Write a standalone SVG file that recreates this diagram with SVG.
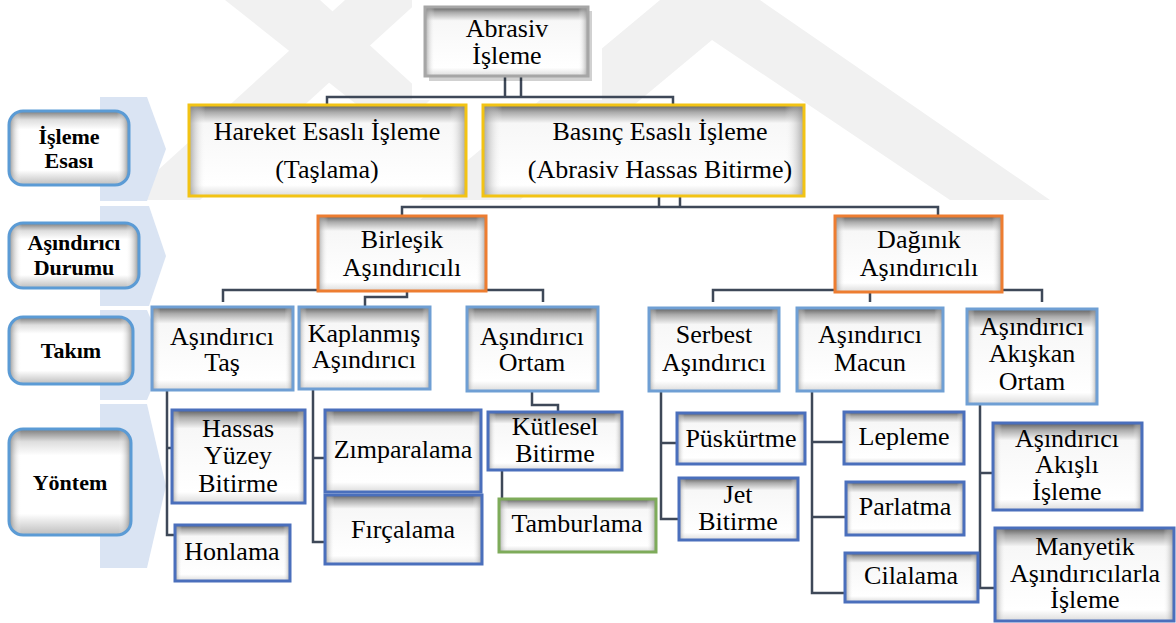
<svg xmlns="http://www.w3.org/2000/svg" width="1176" height="623" viewBox="0 0 1176 623">
<defs>
<linearGradient id="gv" x1="0" y1="0" x2="0" y2="1">
<stop offset="0" stop-color="#5e5e5e"/>
<stop offset="0.08" stop-color="#ababab"/>
<stop offset="0.2" stop-color="#f7f7f7"/>
<stop offset="0.88" stop-color="#ffffff"/>
<stop offset="1" stop-color="#dcdcdc"/>
</linearGradient>
<linearGradient id="gh" x1="0" y1="0" x2="1" y2="0">
<stop offset="0" stop-color="#8a8a8a" stop-opacity="0.75"/>
<stop offset="0.06" stop-color="#ffffff" stop-opacity="0"/>
<stop offset="0.94" stop-color="#ffffff" stop-opacity="0"/>
<stop offset="1" stop-color="#8a8a8a" stop-opacity="0.75"/>
</linearGradient>
<linearGradient id="lv" x1="0" y1="0" x2="0" y2="1">
<stop offset="0" stop-color="#7a7a7a"/>
<stop offset="0.12" stop-color="#dedede"/>
<stop offset="0.25" stop-color="#ffffff"/>
<stop offset="0.8" stop-color="#ffffff"/>
<stop offset="1" stop-color="#bdbdbd"/>
</linearGradient>
<linearGradient id="lh" x1="0" y1="0" x2="1" y2="0">
<stop offset="0" stop-color="#7a7a7a" stop-opacity="0.85"/>
<stop offset="0.1" stop-color="#ffffff" stop-opacity="0"/>
<stop offset="0.9" stop-color="#ffffff" stop-opacity="0"/>
<stop offset="1" stop-color="#7a7a7a" stop-opacity="0.85"/>
</linearGradient>
<style>
.fv{fill:url(#gv)}
.fh{fill:url(#gh)}
.lv{fill:url(#lv)}
.lh{fill:url(#lh)}
.b{fill:none;stroke-width:3}
.gray{stroke:#a6a6a6}
.yel{stroke:#f2c314}
.org{stroke:#ed7d31}
.tb{stroke:#6f9fd4}
.yb{stroke:#4a6fbc}
.grn{stroke:#7eab5a}
.lab{fill:none;stroke:#5b9bd5;stroke-width:3}
.t{font-family:"Liberation Serif","Times New Roman",serif;font-size:26px;fill:#000;text-anchor:middle}
.lt{font-family:"Liberation Serif","Times New Roman",serif;font-size:22px;font-weight:bold;fill:#000;text-anchor:middle}
.chev{fill:#dae4f3}
.wm{fill:#f1f1f1}
.con{fill:none;stroke:#3e4858;stroke-width:2.5}
</style>
</defs>
<rect width="1176" height="623" fill="#fff"/>
<g id="watermark">
<polygon class="wm" points="420,200 660,0 760,0 1050,200 950,200 712,40 520,200"/>
<polygon class="wm" points="125,200 200,200 420,0 345,0"/>
<polygon class="wm" points="225,0 320,0 430,100 395,135"/>
<rect x="412" y="0" width="190" height="100" fill="#fff"/>
</g>
<g id="chevrons">
<polygon class="chev" points="100,97 147,97 166,149 147,201 100,201"/>
<polygon class="chev" points="100,206 149,206 166,256 149,306 100,306"/>
<polygon class="chev" points="100,310 147,310 166,355 147,400 100,400"/>
<polygon class="chev" points="100,404 147,404 166,486 147,568 100,568"/>
</g>
<g id="label-isleme-esasi">
<rect class="lv" x="9" y="111" width="120" height="74" rx="14"/>
<rect class="lh" x="9" y="111" width="120" height="74" rx="14"/>
<rect class="lab" x="9" y="111" width="120" height="74" rx="14"/>
<text class="lt" x="69" y="144">İşleme</text>
<text class="lt" x="69" y="168">Esası</text>
</g>
<g id="label-asindirici-durumu">
<rect class="lv" x="9" y="223" width="130" height="65" rx="14"/>
<rect class="lh" x="9" y="223" width="130" height="65" rx="14"/>
<rect class="lab" x="9" y="223" width="130" height="65" rx="14"/>
<text class="lt" x="74" y="250">Aşındırıcı</text>
<text class="lt" x="74" y="275">Durumu</text>
</g>
<g id="label-takim">
<rect class="lv" x="9" y="317" width="124" height="67" rx="14"/>
<rect class="lh" x="9" y="317" width="124" height="67" rx="14"/>
<rect class="lab" x="9" y="317" width="124" height="67" rx="14"/>
<text class="lt" x="71" y="358">Takım</text>
</g>
<g id="label-yontem">
<rect class="lv" x="9" y="429" width="122" height="106" rx="14"/>
<rect class="lh" x="9" y="429" width="122" height="106" rx="14"/>
<rect class="lab" x="9" y="429" width="122" height="106" rx="14"/>
<text class="lt" x="70" y="490">Yöntem</text>
</g>
<g id="connectors">
<path class="con" d="M505,76 V97 M521,76 V97 M327,105 V97 H673 V105"/>
<path class="con" d="M659,196 V207 M680,196 V207 M402,216 V207 H938 V216"/>
<path class="con" d="M223,302 V290 H318 M486,290 H543 V302 M407,291 V297 H365 V307"/>
<path class="con" d="M713,302 V290 H835 M870,292 V302 M1002,290 H1042 V302"/>
<path class="con" d="M167,390 V535 H176 M167,448 H173"/>
<path class="con" d="M313,389 V542 H326 M313,458 H326"/>
<path class="con" d="M532,391 V405 H558 V412"/>
<path class="con" d="M502,470 V499"/>
<path class="con" d="M661,391 V519 H680 M661,443 H678"/>
<path class="con" d="M812,391 V593 H846 M812,442 H845 M812,517 H847"/>
<path class="con" d="M980,404 V588 H996 M980,473 H994"/>
</g>
<g id="n-abrasiv-isleme">
<rect x="429" y="11" width="163" height="70" fill="#000" opacity="0.18"/>
<rect class="fv" x="425" y="7" width="163" height="69"/>
<rect class="fh" x="425" y="7" width="163" height="69"/>
<rect class="b gray" x="425" y="7" width="163" height="69"/>
<text class="t" x="507" y="37">Abrasiv</text>
<text class="t" x="507" y="64">İşleme</text>
</g>
<g id="n-hareket">
<rect class="fv" x="189" y="105" width="277" height="91"/>
<rect class="fh" x="189" y="105" width="277" height="91"/>
<rect class="b yel" x="189" y="105" width="277" height="91"/>
<text class="t" x="327" y="140">Hareket Esaslı İşleme</text>
<text class="t" x="327" y="178">(Taşlama)</text>
</g>
<g id="n-basinc">
<rect class="fv" x="483" y="105" width="321" height="91"/>
<rect class="fh" x="483" y="105" width="321" height="91"/>
<rect class="b yel" x="483" y="105" width="321" height="91"/>
<text class="t" x="660" y="140">Basınç Esaslı İşleme</text>
<text class="t" x="660" y="178">(Abrasiv Hassas Bitirme)</text>
</g>
<g id="n-birlesik">
<rect class="fv" x="318" y="216" width="168" height="75"/>
<rect class="fh" x="318" y="216" width="168" height="75"/>
<rect class="b org" x="318" y="216" width="168" height="75"/>
<text class="t" x="402" y="248">Birleşik</text>
<text class="t" x="402" y="276">Aşındırıcılı</text>
</g>
<g id="n-daginik">
<rect class="fv" x="835" y="216" width="167" height="76"/>
<rect class="fh" x="835" y="216" width="167" height="76"/>
<rect class="b org" x="835" y="216" width="167" height="76"/>
<text class="t" x="919" y="248">Dağınık</text>
<text class="t" x="919" y="276">Aşındırıcılı</text>
</g>
<g id="n-tas">
<rect class="fv" x="152" y="307" width="141" height="83"/>
<rect class="fh" x="152" y="307" width="141" height="83"/>
<rect class="b tb" x="152" y="307" width="141" height="83"/>
<text class="t" x="222" y="345">Aşındırıcı</text>
<text class="t" x="222" y="371">Taş</text>
</g>
<g id="n-kaplanmis">
<rect class="fv" x="299" y="307" width="131" height="82"/>
<rect class="fh" x="299" y="307" width="131" height="82"/>
<rect class="b tb" x="299" y="307" width="131" height="82"/>
<text class="t" x="364" y="342">Kaplanmış</text>
<text class="t" x="364" y="368">Aşındırıcı</text>
</g>
<g id="n-ortam">
<rect class="fv" x="467" y="307" width="131" height="84"/>
<rect class="fh" x="467" y="307" width="131" height="84"/>
<rect class="b tb" x="467" y="307" width="131" height="84"/>
<text class="t" x="532" y="345">Aşındırıcı</text>
<text class="t" x="532" y="371">Ortam</text>
</g>
<g id="n-serbest">
<rect class="fv" x="649" y="308" width="130" height="83"/>
<rect class="fh" x="649" y="308" width="130" height="83"/>
<rect class="b tb" x="649" y="308" width="130" height="83"/>
<text class="t" x="714" y="343">Serbest</text>
<text class="t" x="714" y="371">Aşındırıcı</text>
</g>
<g id="n-macun">
<rect class="fv" x="797" y="308" width="146" height="83"/>
<rect class="fh" x="797" y="308" width="146" height="83"/>
<rect class="b tb" x="797" y="308" width="146" height="83"/>
<text class="t" x="870" y="343">Aşındırıcı</text>
<text class="t" x="870" y="371">Macun</text>
</g>
<g id="n-akiskan">
<rect class="fv" x="967" y="309" width="130" height="95"/>
<rect class="fh" x="967" y="309" width="130" height="95"/>
<rect class="b tb" x="967" y="309" width="130" height="95"/>
<text class="t" x="1032" y="335">Aşındırıcı</text>
<text class="t" x="1032" y="362">Akışkan</text>
<text class="t" x="1032" y="390">Ortam</text>
</g>
<g id="n-hassas">
<rect class="fv" x="172" y="410" width="133" height="93"/>
<rect class="fh" x="172" y="410" width="133" height="93"/>
<rect class="b yb" x="172" y="410" width="133" height="93"/>
<text class="t" x="238" y="437">Hassas</text>
<text class="t" x="238" y="464">Yüzey</text>
<text class="t" x="238" y="492">Bitirme</text>
</g>
<g id="n-honlama">
<rect class="fv" x="175" y="525" width="115" height="56"/>
<rect class="fh" x="175" y="525" width="115" height="56"/>
<rect class="b yb" x="175" y="525" width="115" height="56"/>
<text class="t" x="232" y="560">Honlama</text>
</g>
<g id="n-zimparalama">
<rect class="fv" x="325" y="410" width="156" height="82"/>
<rect class="fh" x="325" y="410" width="156" height="82"/>
<rect class="b yb" x="325" y="410" width="156" height="82"/>
<text class="t" x="403" y="458">Zımparalama</text>
</g>
<g id="n-fircalama">
<rect class="fv" x="325" y="495" width="157" height="69"/>
<rect class="fh" x="325" y="495" width="157" height="69"/>
<rect class="b yb" x="325" y="495" width="157" height="69"/>
<text class="t" x="403" y="538">Fırçalama</text>
</g>
<g id="n-kutlesel">
<rect class="fv" x="488" y="412" width="134" height="58"/>
<rect class="fh" x="488" y="412" width="134" height="58"/>
<rect class="b yb" x="488" y="412" width="134" height="58"/>
<text class="t" x="555" y="435">Kütlesel</text>
<text class="t" x="555" y="462">Bitirme</text>
</g>
<g id="n-tamburlama">
<rect class="fv" x="499" y="499" width="157" height="53"/>
<rect class="fh" x="499" y="499" width="157" height="53"/>
<rect class="b grn" x="499" y="499" width="157" height="53"/>
<text class="t" x="577" y="532">Tamburlama</text>
</g>
<g id="n-puskurtme">
<rect class="fv" x="677" y="413" width="128" height="51"/>
<rect class="fh" x="677" y="413" width="128" height="51"/>
<rect class="b yb" x="677" y="413" width="128" height="51"/>
<text class="t" x="741" y="447">Püskürtme</text>
</g>
<g id="n-jet">
<rect class="fv" x="679" y="478" width="119" height="62"/>
<rect class="fh" x="679" y="478" width="119" height="62"/>
<rect class="b yb" x="679" y="478" width="119" height="62"/>
<text class="t" x="738" y="503">Jet</text>
<text class="t" x="738" y="530">Bitirme</text>
</g>
<g id="n-lepleme">
<rect class="fv" x="844" y="412" width="120" height="52"/>
<rect class="fh" x="844" y="412" width="120" height="52"/>
<rect class="b yb" x="844" y="412" width="120" height="52"/>
<text class="t" x="904" y="445">Lepleme</text>
</g>
<g id="n-parlatma">
<rect class="fv" x="846" y="482" width="118" height="53"/>
<rect class="fh" x="846" y="482" width="118" height="53"/>
<rect class="b yb" x="846" y="482" width="118" height="53"/>
<text class="t" x="905" y="515">Parlatma</text>
</g>
<g id="n-cilalama">
<rect class="fv" x="845" y="553" width="133" height="49"/>
<rect class="fh" x="845" y="553" width="133" height="49"/>
<rect class="b yb" x="845" y="553" width="133" height="49"/>
<text class="t" x="911" y="584">Cilalama</text>
</g>
<g id="n-akisli">
<rect class="fv" x="993" y="423" width="149" height="87"/>
<rect class="fh" x="993" y="423" width="149" height="87"/>
<rect class="b yb" x="993" y="423" width="149" height="87"/>
<text class="t" x="1067" y="447">Aşındırıcı</text>
<text class="t" x="1067" y="473">Akışlı</text>
<text class="t" x="1067" y="500">İşleme</text>
</g>
<g id="n-manyetik">
<rect class="fv" x="995" y="528" width="179" height="93"/>
<rect class="fh" x="995" y="528" width="179" height="93"/>
<rect class="b yb" x="995" y="528" width="179" height="93"/>
<text class="t" x="1085" y="555">Manyetik</text>
<text class="t" x="1085" y="582">Aşındırıcılarla</text>
<text class="t" x="1085" y="608">İşleme</text>
</g>
</svg>
